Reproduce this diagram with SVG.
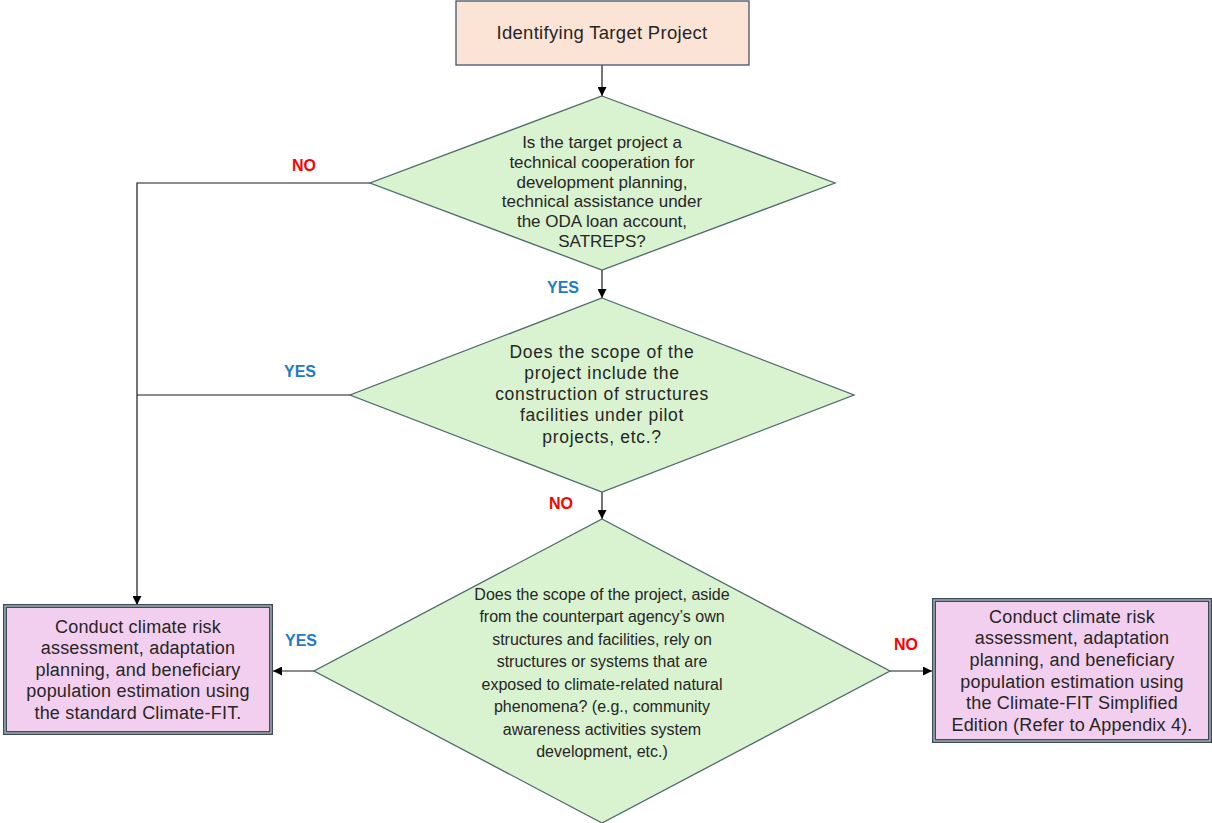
<svg xmlns="http://www.w3.org/2000/svg" width="1212" height="823" viewBox="0 0 1212 823">
  <style>
    .start { fill: #fbe4d6; stroke: #44546a; stroke-width: 1.3; }
    .decision { fill: #d9f2d0; stroke: #4e6a6a; stroke-width: 1.3; }
    .result { fill: #f2cfee; stroke: #3e4c59; stroke-width: 4; }
    .result-inner { fill: none; stroke: #b9c1c9; stroke-width: 1.2; }
    .txt { font-family: "Liberation Sans", Arial, sans-serif; font-size: 17.5px; fill: #262626; text-anchor: middle; }
    .txt-q1 { font-size: 17px; }
    .txt-q2 { letter-spacing: 0.7px; }
    .txt-start { font-size: 18.5px; letter-spacing: 0.3px; }
    .txt-box { font-size: 18px; letter-spacing: 0.2px; }
    .txt-narrow { font-family: "Liberation Sans", Arial, sans-serif; font-size: 16px; fill: #262626; text-anchor: middle; }
    .edge { fill: none; stroke: #1a1a1a; stroke-width: 1.2; }
    .yes { font-family: "Liberation Sans", Arial, sans-serif; font-size: 16px; font-weight: bold; fill: #1f7ac6; text-anchor: middle; }
    .no { font-family: "Liberation Sans", Arial, sans-serif; font-size: 16px; font-weight: bold; fill: #ff0000; text-anchor: middle; }
  </style>
  <defs>
    <marker id="arrow" viewBox="0 0 10 10" refX="10" refY="5" markerWidth="9" markerHeight="9" markerUnits="userSpaceOnUse" orient="auto">
      <path d="M0,0 L10,5 L0,10 z" fill="#000"/>
    </marker>
  </defs>

  <!-- connectors -->
  <g id="connectors">
    <path class="edge" d="M602,65 L602,96" marker-end="url(#arrow)"/>
    <path class="edge" d="M602,270 L602,298" marker-end="url(#arrow)"/>
    <path class="edge" d="M602,492 L602,519" marker-end="url(#arrow)"/>
    <path class="edge" d="M370,183 L137,183 L137,605" marker-end="url(#arrow)"/>
    <path class="edge" d="M350,395 L137,395"/>
    <path class="edge" d="M314,671 L273,671" marker-end="url(#arrow)"/>
    <path class="edge" d="M890,671 L932,671" marker-end="url(#arrow)"/>
    <text class="no" x="304" y="171">NO</text>
    <text class="yes" x="563" y="293">YES</text>
    <text class="yes" x="300" y="377">YES</text>
    <text class="no" x="561" y="509">NO</text>
    <text class="yes" x="301" y="646">YES</text>
    <text class="no" x="906" y="650">NO</text>
  </g>

  <!-- start -->
  <g id="start">
    <rect class="start" x="456" y="1" width="293" height="64"/>
    <text class="txt txt-start" x="602" y="39">Identifying Target Project</text>
  </g>

  <!-- decision 1 -->
  <g id="decision1">
    <polygon class="decision" points="602,96 835,183 602,270 370,183"/>
    <text class="txt txt-q1" x="602" y="148">Is the target project a</text>
    <text class="txt txt-q1" x="602" y="168">technical cooperation for</text>
    <text class="txt txt-q1" x="602" y="188">development planning,</text>
    <text class="txt txt-q1" x="602" y="207">technical assistance under</text>
    <text class="txt txt-q1" x="602" y="227">the ODA loan account,</text>
    <text class="txt txt-q1" x="602" y="247">SATREPS?</text>
  </g>

  <!-- decision 2 -->
  <g id="decision2">
    <polygon class="decision" points="602,298 854,395 602,492 350,395"/>
    <text class="txt txt-q2" x="602" y="358">Does the scope of the</text>
    <text class="txt txt-q2" x="602" y="379">project include the</text>
    <text class="txt txt-q2" x="602" y="400">construction of structures</text>
    <text class="txt txt-q2" x="602" y="421">facilities under pilot</text>
    <text class="txt txt-q2" x="602" y="443">projects, etc.?</text>
  </g>

  <!-- decision 3 -->
  <g id="decision3">
    <polygon class="decision" points="602,519 890,671 602,823 314,671"/>
    <text class="txt-narrow" x="602" y="600">Does the scope of the project, aside</text>
    <text class="txt-narrow" x="602" y="622">from the counterpart agency’s own</text>
    <text class="txt-narrow" x="602" y="645">structures and facilities, rely on</text>
    <text class="txt-narrow" x="602" y="667">structures or systems that are</text>
    <text class="txt-narrow" x="602" y="690">exposed to climate-related natural</text>
    <text class="txt-narrow" x="602" y="712">phenomena? (e.g., community</text>
    <text class="txt-narrow" x="602" y="735">awareness activities system</text>
    <text class="txt-narrow" x="602" y="757">development, etc.)</text>
  </g>

  <!-- outcome: standard -->
  <g id="standard">
    <rect class="result" x="5" y="606" width="266" height="127"/>
    <rect class="result-inner" x="5" y="606" width="266" height="127"/>
    <text class="txt txt-box" x="138" y="633">Conduct climate risk</text>
    <text class="txt txt-box" x="138" y="654">assessment, adaptation</text>
    <text class="txt txt-box" x="138" y="676">planning, and beneficiary</text>
    <text class="txt txt-box" x="138" y="697">population estimation using</text>
    <text class="txt txt-box" x="138" y="719">the standard Climate-FIT.</text>
  </g>

  <!-- outcome: simplified -->
  <g id="simplified">
    <rect class="result" x="934" y="600" width="276" height="141"/>
    <rect class="result-inner" x="934" y="600" width="276" height="141"/>
    <text class="txt txt-box" x="1072" y="623">Conduct climate risk</text>
    <text class="txt txt-box" x="1072" y="644">assessment, adaptation</text>
    <text class="txt txt-box" x="1072" y="666">planning, and beneficiary</text>
    <text class="txt txt-box" x="1072" y="688">population estimation using</text>
    <text class="txt txt-box" x="1072" y="709">the Climate-FIT Simplified</text>
    <text class="txt txt-box" x="1072" y="731">Edition (Refer to Appendix 4).</text>
  </g>
</svg>
